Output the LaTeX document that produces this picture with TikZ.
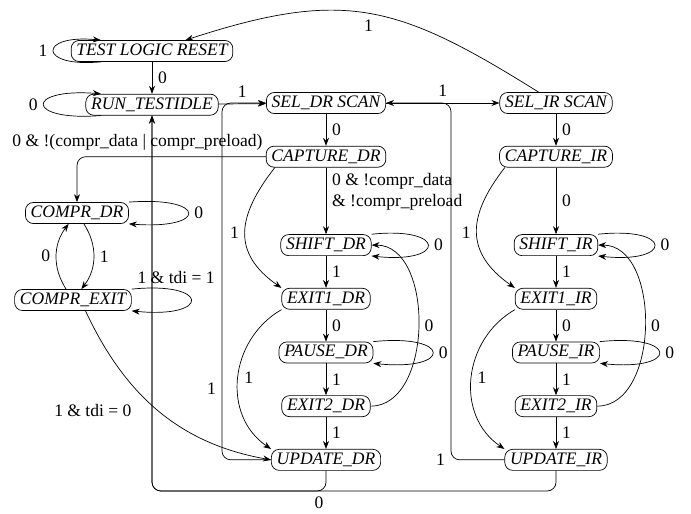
\documentclass[tikz,border=0pt]{standalone}
\usepackage{fontspec}
\setmainfont{Liberation Serif}
\usepackage{tikz}
\usetikzlibrary{arrows.meta,positioning}

\begin{document}
\begin{tikzpicture}[
  x=0.57pt, y=0.57pt,
  state/.style={draw, rounded corners=4.5pt, font=\itshape, inner xsep=3pt, inner ysep=1pt,
    text height=7pt, text depth=2pt, minimum height=12pt},
  arr/.style={-{Stealth[length=1.6mm]}},
  bus/.style={arr, rounded corners=5pt},
  node distance=18.2pt]
\useasboundingbox (0,0) rectangle (691,-513);
% --- reset and idle ---
\node[state] (tlr) at (152,-51) {TEST LOGIC RESET};
\node[state, below=of tlr] (rti) {RUN\_TESTIDLE};
% --- DR column ---
\node[state] (seldr) at (326,-103) {SEL\_DR SCAN};
\node[state, below=of seldr] (capdr) {CAPTURE\_DR};
\node[state, below=38pt of capdr] (shiftdr) {SHIFT\_DR};
\node[state, below=of shiftdr] (exit1dr) {EXIT1\_DR};
\node[state, below=of exit1dr] (pausedr) {PAUSE\_DR};
\node[state, below=of pausedr] (exit2dr) {EXIT2\_DR};
\node[state, below=of exit2dr] (updr) {UPDATE\_DR};
% --- IR column ---
\node[state] (selir) at (556,-103) {SEL\_IR SCAN};
\node[state, below=of selir] (capir) {CAPTURE\_IR};
\node[state, below=38pt of capir] (shiftir) {SHIFT\_IR};
\node[state, below=of shiftir] (exit1ir) {EXIT1\_IR};
\node[state, below=of exit1ir] (pauseir) {PAUSE\_IR};
\node[state, below=of pauseir] (exit2ir) {EXIT2\_IR};
\node[state, below=of exit2ir] (upir) {UPDATE\_IR};
% --- compression ---
\node[state] (comprdr) at (77,-213) {COMPR\_DR};
\node[state] (comprexit) at (73,-300) {COMPR\_EXIT};
% --- corners of the return lines ---
\coordinate (dl) at (222,-103);
\coordinate (dr) at (451,-103);
\coordinate (bl) at (152,-491);

% --- reset and idle edges ---
\draw[arr] (tlr.192) .. controls +(-63,-6) and +(-63,6) .. (tlr.168) node[midway, left] {1};
\draw[arr] (rti.192) .. controls +(-76,-6) and +(-76,6) .. (rti.168) node[midway, left] {0};
\draw[arr] (tlr) -- node[right] {0} (rti);
\draw[arr] (rti) -- node[above] {1} (seldr);
\draw[arr] (seldr) -- node[above] {1} (selir);
\draw[arr] (selir.148) to[out=148, in=18, looseness=1.2] node[below] {1} (tlr.18);
% --- DR edges ---
\draw[arr] (seldr) -- node[right] {0} (capdr);
\draw[bus] (capdr.west) -| node[pos=0.34, above] {0 \& !(compr\_data | compr\_preload)} (comprdr.north);
\draw[arr] (capdr) -- node[pos=0.37, right, align=left] {0 \& !compr\_data\\\& !compr\_preload} (shiftdr);
\draw[arr] (capdr.192) to[out=232, in=145, looseness=1.3] node[left] {1} (exit1dr.north west);
\draw[arr] (shiftdr.north east) .. controls +(75,8) and +(75,-8) .. (shiftdr.south east) node[midway, right] {0};
\draw[arr] (shiftdr) -- node[right] {1} (exit1dr);
\draw[arr] (exit1dr) -- node[right] {0} (pausedr);
\draw[arr] (exit1dr.south west) to[out=210, in=146, looseness=1.1] node[right] {1} (updr.north west);
\draw[arr] (pausedr.north east) .. controls +(79,8) and +(79,-8) .. (pausedr.south east) node[midway, right] {0};
\draw[arr] (pausedr) -- node[right] {1} (exit2dr);
\draw[arr] (exit2dr.east) to[out=0, in=0] node[right] {0} (shiftdr.east);
\draw[arr] (exit2dr) -- node[right] {1} (updr);
\draw[bus] (updr.west) -| node[pos=0.6, left] {1} (dl) -- (seldr.west);
\draw[bus] (updr.south) |- node[pos=0.52, below] {0} (bl) -- (rti.south);
% --- IR edges ---
\draw[arr] (selir) -- node[right] {0} (capir);
\draw[arr] (capir) -- node[right] {0} (shiftir);
\draw[arr] (capir.192) to[out=232, in=145, looseness=1.3] node[left] {1} (exit1ir.north west);
\draw[arr] (shiftir.north east) .. controls +(75,8) and +(75,-8) .. (shiftir.south east) node[midway, right] {0};
\draw[arr] (shiftir) -- node[right] {1} (exit1ir);
\draw[arr] (exit1ir) -- node[right] {0} (pauseir);
\draw[arr] (exit1ir.south west) to[out=210, in=146, looseness=1.1] node[right] {1} (upir.north west);
\draw[arr] (pauseir.north east) .. controls +(79,8) and +(79,-8) .. (pauseir.south east) node[midway, right] {0};
\draw[arr] (pauseir) -- node[right] {1} (exit2ir);
\draw[arr] (exit2ir.east) to[out=0, in=0] node[right] {0} (shiftir.east);
\draw[arr] (exit2ir) -- node[right] {1} (upir);
\draw[bus] (upir.west) -| node[pos=0.5, left] {1} (dr) -- (seldr.east);
\draw[bus] (upir.south) |- (bl) -- (rti.south);
% --- compression edges ---
\draw[arr] (comprdr.north east) .. controls +(79,6) and +(79,-6) .. (comprdr.south east) node[midway, right] {0};
\draw[arr] (comprdr) to[bend left=35] node[right] {1} (comprexit);
\draw[arr] (comprexit) to[bend left=35] node[left] {0} (comprdr);
\draw[arr] (comprexit.north east) .. controls +(79,8) and +(79,-8) .. (comprexit.south east) node[pos=0.25, above] {1 \& tdi = 1};
\draw[arr] (comprexit.-41) to[out=-65, in=170] node[pos=0.5, left=12pt] {1 \& tdi = 0} (updr.west);
\end{tikzpicture}
\end{document}
